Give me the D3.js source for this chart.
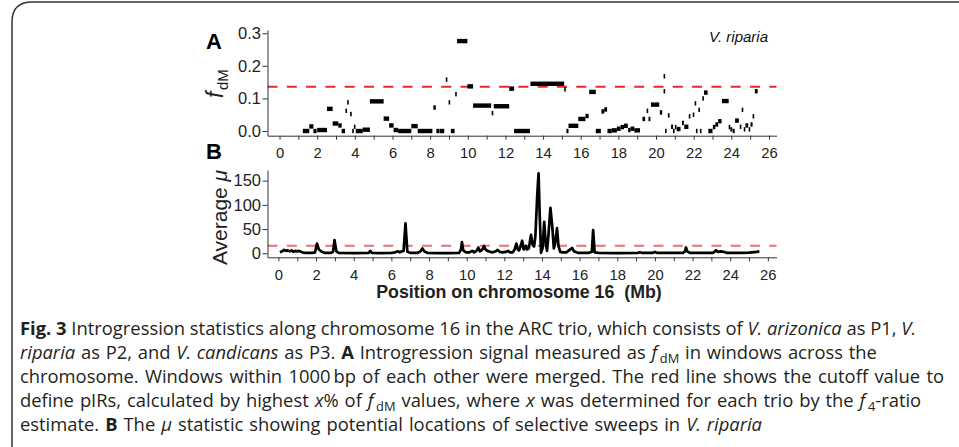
<!DOCTYPE html>
<meta charset="utf-8">
<title>Fig. 3 chromosome 16</title>
<style>
body { margin: 0; background: #fff; }
svg { display: block; }
.axis text { font-family: "Liberation Sans", Arial, Helvetica, sans-serif; fill: #222; }
.axis path, .axis line { stroke: #333; stroke-width: 1; }
.caption { font-family: "Open Sans", sans-serif; font-size: 18.6px; fill: #231f20; }
</style>
<svg id="fig" width="959" height="447"></svg>
<script src="https://cdn.jsdelivr.net/npm/d3@7"></script>
<script>
'use strict';

// fdM windows: [start Mb, end Mb, fdM]
const fdmWindows = [
  [1.24,1.58,0.0],[1.58,1.8,0.014],[1.8,1.97,0.0],[2.0,2.52,0.003],[2.52,2.82,0.068],
  [2.82,3.12,0.023],[3.12,3.3,0.017],[3.3,3.48,0.0],[3.5,3.54,0.062],[3.59,3.63,0.088],
  [3.75,3.8,0.052],[3.86,3.9,0.0],[3.95,4.03,0.013],[4.05,4.42,0.0],[4.42,4.8,0.004],
  [4.8,5.53,0.091],[5.53,5.82,0.038],[5.82,6.06,0.017],[6.06,6.3,0.003],[6.3,7.0,0.0],
  [7.0,7.34,0.015],[7.34,8.12,0.0],[8.17,8.3,0.072],[8.33,8.5,0.0],[8.52,8.75,0.0],
  [8.83,8.88,0.158],[8.98,9.05,0.088],[9.1,9.3,0.0],[9.33,9.38,0.113],[9.43,9.98,0.276],
  [9.98,10.28,0.137],[10.28,11.24,0.078],[11.27,11.33,0.055],[11.38,12.2,0.076],[12.2,12.46,0.13],
  [12.46,13.3,0.0],[13.33,15.12,0.145],[15.12,15.18,0.128],[15.24,15.35,0.0],[15.35,15.87,0.016],
  [15.87,16.25,0.037],[16.25,16.42,0.046],[16.45,16.8,0.12],[16.8,17.07,0.0],[17.1,17.25,0.06],
  [17.25,17.4,0.066],[17.42,17.65,0.0],[17.65,17.92,0.002],[17.92,18.12,0.007],[18.12,18.3,0.012],
  [18.3,18.5,0.016],[18.52,18.65,0.003],[18.65,18.85,0.007],[18.85,19.15,0.002],[19.28,19.42,0.037],
  [19.5,19.56,0.062],[19.6,19.7,0.037],[19.73,20.17,0.081],[20.2,20.33,0.057],[20.4,20.43,0.168],
  [20.4,20.43,0.122],[20.48,20.56,0.0],[20.63,20.72,0.048],[20.8,20.9,0.013],[20.9,20.98,0.0],
  [21.0,21.08,0.012],[21.1,21.3,0.006],[21.38,21.48,0.025],[21.5,21.72,0.013],[21.74,21.8,0.045],
  [21.95,22.0,0.05],[22.05,22.1,0.085],[22.12,22.18,0.0],[22.25,22.3,0.065],[22.33,22.4,0.0],
  [22.46,22.5,0.1],[22.55,22.74,0.118],[22.78,23.0,0.0],[23.02,23.15,0.012],[23.15,23.3,0.02],
  [23.3,23.48,0.03],[23.5,23.86,0.092],[23.86,23.93,0.012],[23.95,24.05,0.005],[24.07,24.18,0.0],
  [24.2,24.4,0.032],[24.45,24.5,0.013],[24.55,24.62,0.065],[24.66,24.72,0.005],[24.75,24.9,0.017],
  [24.92,25.0,0.005],[25.02,25.13,0.02],[25.13,25.18,0.045],[25.25,25.4,0.122]
];
const fdmCutoff = 0.136;

// average mu along the chromosome: [position Mb, mu]
const muTrack = [
  [0.08,2],[0.2,4],[0.3,7],[0.4,5],[0.5,6],[0.6,4],[0.7,6],[0.8,3],[0.9,5],[1.0,4],
  [1.1,5],[1.2,3],[1.3,1.5],[1.5,1],[1.8,1],[1.95,2],[2.05,20],[2.15,8],[2.3,3],[2.45,1],
  [2.8,1],[2.9,3],[2.98,27],[3.08,4],[3.2,1],[4.0,0.5],[4.8,1],[4.88,5],[4.97,1],[5.5,0.5],
  [6.0,1],[6.2,2],[6.35,4],[6.45,2],[6.55,4],[6.65,5],[6.75,62],[6.85,3],[7.0,1],[7.4,1],
  [7.55,4],[7.65,10],[7.75,4],[7.9,1],[8.5,0.5],[9.0,0.5],[9.6,1],[9.7,8],[9.75,23],[9.82,6],
  [9.95,2],[10.15,2],[10.3,5],[10.4,2],[10.55,6],[10.62,12],[10.7,4],[10.8,6],[10.92,15],[11.0,8],
  [11.1,5],[11.25,3],[11.4,2],[11.55,4],[11.65,7],[11.75,3],[11.9,2],[12.1,3],[12.2,5],[12.3,2],
  [12.45,2],[12.55,8],[12.64,20],[12.72,8],[12.78,6],[12.85,12],[12.95,26],[13.03,8],[13.1,10],[13.15,15],
  [13.22,8],[13.3,10],[13.42,38],[13.5,18],[13.58,14],[13.65,35],[13.75,120],[13.82,165],[13.88,80],[13.95,1],
  [14.03,10],[14.12,65],[14.2,20],[14.27,5],[14.35,40],[14.45,94],[14.55,55],[14.63,10],[14.7,20],[14.8,52],
  [14.88,15],[14.97,3],[15.1,2],[15.3,2],[15.5,8],[15.6,11],[15.7,4],[15.9,1],[16.5,1],[16.65,3],
  [16.72,48],[16.8,2],[17.0,1],[18.0,0.5],[19.1,1],[19.2,2],[19.3,1],[19.9,1],[20.0,3],[20.1,1],
  [21.5,1],[21.6,4],[21.65,12],[21.72,4],[21.85,1],[23.1,1],[23.25,6],[23.35,3],[23.5,4],[23.65,3],
  [23.8,1],[24.5,1],[25.0,1.5],[25.4,3],[25.55,4]
];
const muCutoff = 15.7;

const xMinorTicks = [0,1,2,3,4,5,6,7,8,9,10,11,12,13,14,15,16,17,18,19,20,21,22,23,24,25,26];
const xTickLabels = [0,2,4,6,8,10,12,14,16,18,20,22,24,26];
const fdmTicks = [0, 0.1, 0.2, 0.3];
const muTicks = [0, 50, 100, 150];

const captionLines = [
  [["Fig. 3","b"],[" Introgression statistics along chromosome 16 in the ARC trio, which consists of ",""],["V. arizonica","i"],[" as P1, ",""],["V.","i"]],
  [["riparia","i"],[" as P2, and ",""],["V. candicans","i"],[" as P3. ",""],["A","b"],[" Introgression signal measured as ",""],["f","i"],["dM","sub"],[" in windows across the",""]],
  [["chromosome. Windows within 1000\u2009bp of each other were merged. The red line shows the cutoff value to",""]],
  [["define pIRs, calculated by highest ",""],["x","i"],["% of ",""],["f","i"],["dM","sub"],[" values, where ",""],["x","i"],[" was determined for each trio by the ",""],["f","i"],["4","sub"],["-ratio",""]],
  [["estimate. ",""],["B","b"],[" The ",""],["\u03bc","i"],[" statistic showing potential locations of selective sweeps in ",""],["V. riparia","i"]]
];
const captionY = [335, 359, 383, 407, 431];
// measured line widths in the figure (null: not measured)
const captionWidths = [896, null, 924, 896, 742];

const font = '"Liberation Sans", Arial, Helvetica, sans-serif';
const svg = d3.select("#fig");

svg.append("rect").attr("width", 959).attr("height", 447).attr("fill", "#fff");
svg.append("path")
  .attr("d", "M12,447V22Q12,2 32,2H959")
  .attr("fill", "none").attr("stroke", "#333").attr("stroke-width", 1.5);

const xA = d3.scaleLinear().domain([-0.64, 26.4]).range([267.5, 776.5]);
const xB = d3.scaleLinear().domain([-0.58, 26.46]).range([267.5, 776.5]);
const yA = d3.scaleLinear().domain([-0.0144, 0.31]).range([135.7, 30]);
const yB = d3.scaleLinear().domain([-8.3, 172]).range([257.3, 170]);

function drawX(scale, y) {
  const g = svg.append("g").attr("class", "axis").attr("transform", `translate(0,${y})`)
    .call(d3.axisBottom(scale).tickValues(xMinorTicks).tickSize(4).tickSizeOuter(0).tickPadding(8.3)
      .tickFormat(d => xTickLabels.includes(d) ? d : ""));
  g.attr("font-size", 14.8).selectAll("text").style("font-size", "14.8px");
}
function drawY(scale, ticks, fmt) {
  const g = svg.append("g").attr("class", "axis").attr("transform", "translate(267.5,0)")
    .call(d3.axisLeft(scale).tickValues(ticks).tickSize(5).tickSizeOuter(0).tickPadding(1.5).tickFormat(fmt));
  g.attr("font-size", 16.5).selectAll("text").style("font-size", "16.5px");
}

// panel A
svg.append("line")
  .attr("x1", xA.range()[0]).attr("x2", xA.range()[1])
  .attr("y1", yA(fdmCutoff)).attr("y2", yA(fdmCutoff))
  .attr("stroke", "#e8282b").attr("stroke-width", 2).attr("stroke-dasharray", "10,9.3");

svg.append("g").selectAll("rect")
  .data(fdmWindows)
  .enter().append("rect")
    .attr("x", d => xA(d[0]))
    .attr("width", d => Math.max(xA(d[1]) - xA(d[0]), 1.6))
    .attr("y", d => yA(d[2]) - 2.2)
    .attr("height", 4.4)
    .attr("fill", "#000");

drawX(xA, 135.7);
drawY(yA, fdmTicks, d3.format(".1f"));

// panel B
svg.append("line")
  .attr("x1", xB.range()[0]).attr("x2", xB.range()[1])
  .attr("y1", yB(muCutoff)).attr("y2", yB(muCutoff))
  .attr("stroke", "#ef6f6f").attr("stroke-width", 2).attr("stroke-dasharray", "10,9.3");

svg.append("path")
  .datum(muTrack)
  .attr("fill", "none").attr("stroke", "#000").attr("stroke-width", 2.7)
  .attr("stroke-linejoin", "round")
  .attr("d", d3.line().x(d => xB(d[0])).y(d => yB(d[1])));

drawX(xB, 257.3);
drawY(yB, muTicks, d3.format("d"));

// labels
svg.append("text").attr("x", 206).attr("y", 48.5).attr("font-family", font)
  .attr("font-weight", "bold").attr("font-size", 22).text("A");
svg.append("text").attr("x", 206).attr("y", 158.5).attr("font-family", font)
  .attr("font-weight", "bold").attr("font-size", 22).text("B");

const fl = svg.append("text").attr("transform", "translate(223,98) rotate(-90)")
  .attr("font-family", font).attr("fill", "#222");
fl.append("tspan").attr("font-style", "italic").attr("font-size", 23).text("f");
fl.append("tspan").attr("font-size", 15).attr("dy", 5).attr("dx", 1.5).text("dM");

const ml = svg.append("text").attr("transform", "translate(227,217.5) rotate(-90)")
  .attr("font-family", font).attr("fill", "#222").attr("font-size", 21).attr("text-anchor", "middle");
ml.append("tspan").text("Average ");
ml.append("tspan").attr("font-style", "italic").text("\u03bc");

svg.append("text").attr("x", 768).attr("y", 41.5).attr("text-anchor", "end")
  .attr("font-family", font).attr("font-style", "italic").attr("font-size", 15).attr("fill", "#111")
  .text("V. riparia");

svg.append("text").attr("x", 519).attr("y", 297.5).attr("text-anchor", "middle")
  .attr("font-family", font).attr("font-weight", "bold").attr("font-size", 17.8).attr("fill", "#222")
  .style("white-space", "pre")
  .text("Position on chromosome 16  (Mb)");

// caption
const captionTexts = captionLines.map((runs, i) => {
  const t = svg.append("text").attr("class", "caption").attr("x", 20).attr("y", captionY[i]);
  let shifted = false;
  runs.forEach(r => {
    const s = t.append("tspan").text(r[0]);
    if (r[1] === "b") s.attr("font-weight", "bold");
    if (r[1] === "i") s.attr("font-style", "italic");
    if (r[1] === "sub") { s.attr("font-size", "0.7em").attr("dy", "0.3em").attr("dx", "0.2em"); shifted = true; }
    else if (shifted) { s.attr("dy", "-0.21em"); shifted = false; }
  });
  return t;
});
// size the caption from the first line, then even out the other lines with word spacing
const natural = captionTexts[0].node().getComputedTextLength();
const capSize = 18.6 * captionWidths[0] / natural;
captionTexts.forEach(t => t.style("font-size", capSize + "px"));
const spacing = captionTexts.map((t, i) => {
  if (captionWidths[i] === null) return null;
  const spaces = captionLines[i].map(r => r[0]).join("").split(" ").length - 1;
  return (captionWidths[i] - t.node().getComputedTextLength()) / spaces;
});
const known = spacing.filter(s => s !== null);
const meanSpacing = known.reduce((a, b) => a + b, 0) / known.length;
captionTexts.forEach((t, i) => t.style("word-spacing", (spacing[i] === null ? meanSpacing : spacing[i]) + "px"));
</script>
